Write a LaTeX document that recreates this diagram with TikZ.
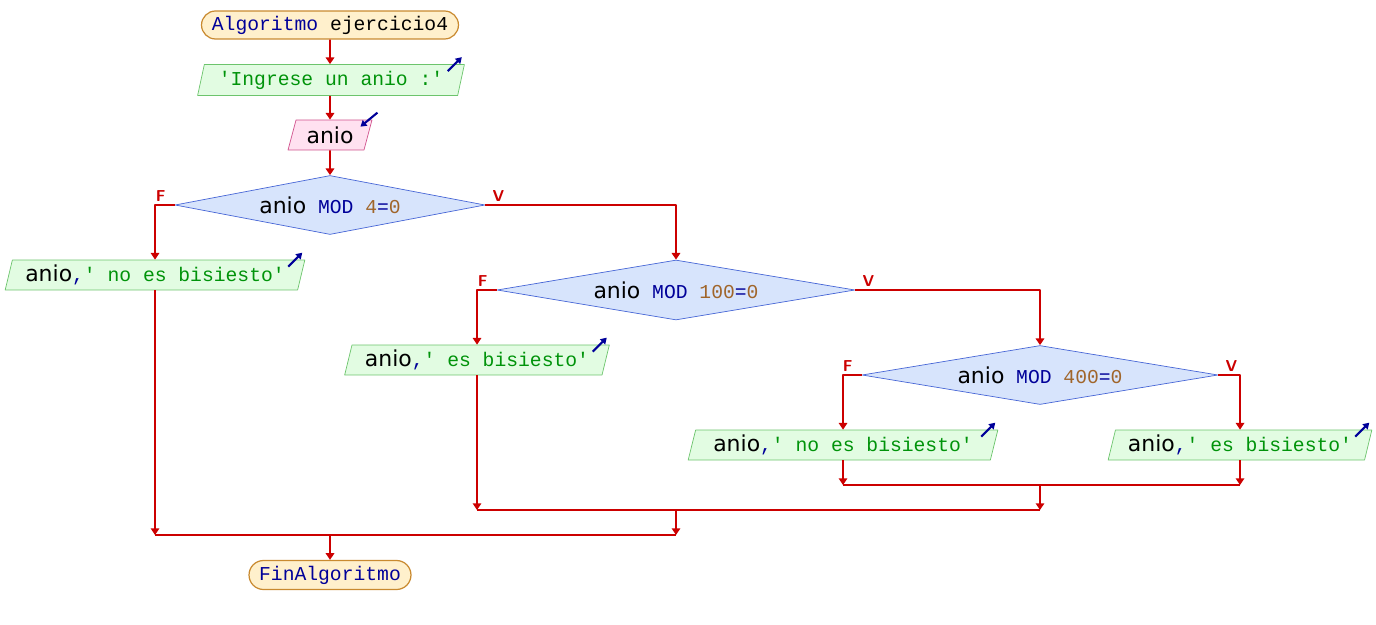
\documentclass[tikz,border=0pt]{standalone}
\usepackage{fontspec}
\setmonofont{Liberation Mono}
\newfontfamily\identfont{DejaVu Sans}
\usepackage{tikz}
\usetikzlibrary{arrows.meta,shapes.geometric,shapes.misc,positioning}
\definecolor{flowred}{HTML}{CC0000}
\definecolor{kwblue}{HTML}{000099}
\definecolor{strgreen}{HTML}{00930A}
\definecolor{numbrown}{HTML}{A0652A}
\definecolor{termfill}{HTML}{FFF0CC}
\definecolor{termline}{HTML}{C98A30}
\definecolor{outfill}{HTML}{E2FCE2}
\definecolor{outline}{HTML}{6CC46C}
\definecolor{infill}{HTML}{FFE1F0}
\definecolor{inline}{HTML}{D0508C}
\definecolor{decfill}{HTML}{D7E4FC}
\definecolor{decline}{HTML}{4766D6}
\newcommand{\kwd}[1]{{\ttfamily\color{kwblue}#1}}
\newcommand{\strg}[1]{{\ttfamily\color{strgreen}#1}}
\newcommand{\numb}[1]{{\ttfamily\color{numbrown}#1}}
\newcommand{\ident}[1]{{\identfont\fontsize{12.5}{14}\selectfont #1}}
\tikzset{
  every picture/.style={line join=round, >={Triangle[width=4.8pt,length=3.8pt]}},
  every node/.style={font=\ttfamily\fontsize{11.2}{13}\selectfont, inner sep=0pt},
  term/.style={rounded rectangle, draw=termline, fill=termfill, line width=0.7pt},
  outbox/.style={trapezium, trapezium left angle=72, trapezium right angle=108,
    trapezium stretches=true, draw=outline, fill=outfill, minimum height=0.6cm},
  inbox/.style={outbox, draw=inline, fill=infill},
  decision/.style={diamond, draw=decline, fill=decfill, thin},
  flow/.style={->, draw=flowred, line width=1.1pt},
  mergeline/.style={draw=flowred, line width=1.1pt},
  ioarrow/.style={-{Triangle[width=4pt,length=3.4pt]}, draw=kwblue, line width=1.2pt},
  branch/.style={font=\sffamily\bfseries\fontsize{9}{10}\selectfont, text=flowred},
}
\newcommand{\outmark}[1]{\draw[ioarrow] ([shift={(-17,7)}]#1.top right corner) -- ([shift={(-3,-7)}]#1.top right corner);}

\begin{document}
\begin{tikzpicture}[x=0.02cm,y=-0.02cm]
\useasboundingbox (0,0) rectangle (1376,625);
\node[term, minimum width=5.14cm, minimum height=0.56cm] (inicio) at (330,25) {\kwd{Algoritmo} ejercicio4};
\node[outbox, minimum width=5.34cm, minimum height=0.62cm] (pedir) at (331,80) {\strg{'Ingrese un anio :'}};
\node[inbox, minimum width=1.68cm] (leer) at (330,135) {\ident{anio}};
\node[decision, aspect=5.25, minimum width=6.2cm, minimum height=1.18cm] (mod4) at (330,205) {\ident{anio} \kwd{MOD} \numb{4}\kwd{=}\numb{0}};
\node[outbox, minimum width=6.0cm] (noBis1) at (155,275) {\ident{anio}\kwd{,}\strg{' no es bisiesto'}};
\node[decision, aspect=5.97, minimum width=7.16cm, minimum height=1.2cm] (mod100) at (676,290) {\ident{anio} \kwd{MOD} \numb{100}\kwd{=}\numb{0}};
\node[outbox, minimum width=5.3cm] (bis1) at (477,360) {\ident{anio}\kwd{,}\strg{' es bisiesto'}};
\node[decision, aspect=6.03, minimum width=7.12cm, minimum height=1.18cm] (mod400) at (1040,375) {\ident{anio} \kwd{MOD} \numb{400}\kwd{=}\numb{0}};
\node[outbox, minimum width=6.2cm] (noBis2) at (843,445) {\ident{anio}\kwd{,}\strg{' no es bisiesto'}};
\node[outbox, minimum width=5.28cm] (bis2) at (1240,445) {\ident{anio}\kwd{,}\strg{' es bisiesto'}};
\node[term, minimum width=3.24cm, minimum height=0.58cm] (fin) at (330,575) {\kwd{FinAlgoritmo}};
% marcas de entrada / salida
\outmark{pedir} \outmark{noBis1} \outmark{bis1} \outmark{noBis2} \outmark{bis2}
\draw[ioarrow] ([shift={(5,-7)}]leer.top right corner) -- ([shift={(-12,7)}]leer.top right corner);
% flujo principal
\draw[flow] (inicio) -- (inicio |- pedir.north);
\draw[flow] (inicio |- pedir.south) -- (leer);
\draw[flow] (leer) -- (mod4);
\draw[flow] (mod4.west) -| (noBis1.north);
\draw[flow] (mod4.east) -| (mod100.north);
\draw[flow] (mod100.west) -| (bis1.north);
\draw[flow] (mod100.east) -| (mod400.north);
\draw[flow] (mod400.west) -| (noBis2.north);
\draw[flow] (mod400.east) -| (bis2.north);
\node[branch, above left=2pt and 5pt] (f1) at (mod4.west) {F};
\node[branch, above right=2pt and 4pt] (v1) at (mod4.east) {V};
\node[branch, above left=2pt and 5pt] (f2) at (mod100.west) {F};
\node[branch, above right=2pt and 4pt] (v2) at (mod100.east) {V};
\node[branch, above left=2pt and 5pt] (f3) at (mod400.west) {F};
\node[branch, above right=2pt and 4pt] (v3) at (mod400.east) {V};
% uniones
\coordinate (j3l) at (noBis2.south |- 0,485);
\coordinate (j3r) at (bis2.south |- 0,485);
\coordinate (j3) at (mod400.south |- 0,485);
\coordinate (j2l) at (bis1.south |- 0,510);
\coordinate (j2r) at (mod400.south |- 0,510);
\coordinate (j2) at (mod100.south |- 0,510);
\coordinate (j1l) at (noBis1.south |- 0,535);
\coordinate (j1r) at (mod100.south |- 0,535);
\coordinate (j1) at (mod4.south |- 0,535);
\draw[flow] (noBis2.south) -- (j3l);
\draw[flow] (bis2.south) -- (j3r);
\draw[mergeline] (j3l) -- (j3r);
\draw[flow] (j3) -- (j2r);
\draw[flow] (bis1.south) -- (j2l);
\draw[mergeline] (j2l) -- (j2r);
\draw[flow] (j2) -- (j1r);
\draw[flow] (noBis1.south) -- (j1l);
\draw[mergeline] (j1l) -- (j1r);
\draw[flow] (j1) -- (fin);
\end{tikzpicture}
\end{document}
